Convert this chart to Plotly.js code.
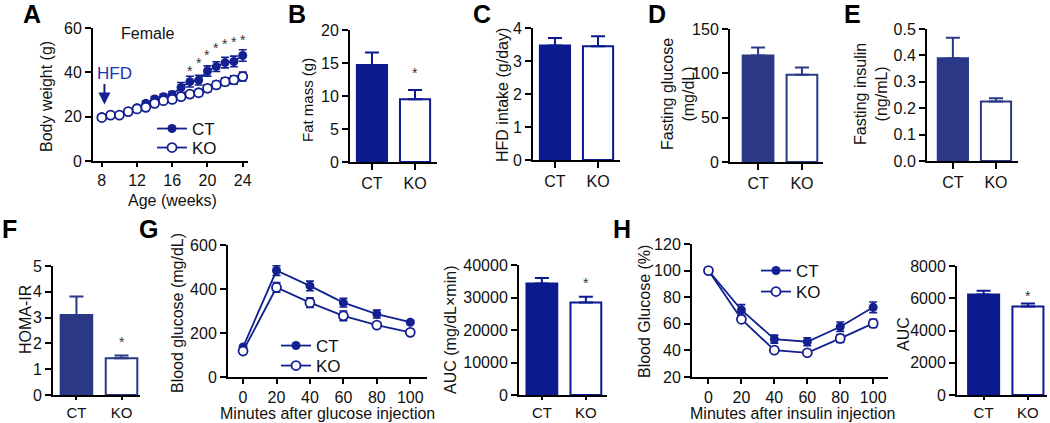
<!DOCTYPE html>
<html>
<head>
<meta charset="utf-8">
<script src="https://cdn.plot.ly/plotly-3.0.1.min.js"></script>
<style>html,body{margin:0;padding:0;background:#fff;} #chart{width:1050px;height:423px;}</style>
</head>
<body>
<div id="chart"></div>
<script>
// ---------------- DATA ----------------
const groups = ['CT', 'KO'];

const weeks = [8,9,10,11,12,13,14,15,16,17,18,19,20,21,22,23,24];
const ctWeight    = [20.0,20.7,20.9,22.5,24.0,26.0,28.0,29.0,30.0,33.2,35.8,36.5,40.6,42.6,44.4,44.9,47.6];
const ctWeightErr = [0.6,0.6,0.7,0.8,0.9,1.0,1.1,1.2,1.3,2.2,2.4,2.2,2.3,2.2,2.4,2.4,2.6];
const koWeight    = [19.6,20.7,20.7,22.3,23.5,24.2,26.0,27.2,27.8,29.0,30.2,30.8,32.8,34.3,35.8,36.6,38.1];
const koWeightErr = [0.5,0.6,0.6,0.7,0.8,0.8,0.9,1.0,1.0,1.2,1.3,1.4,1.5,1.6,1.7,1.8,2.0];
const starWeeks   = [18,19,20,21,22,23,24];
const starWeightY = [42.6,45.9,49.4,52.7,54.4,55.4,56.5];

const fatMass = [14.7, 9.5],      fatMassErr = [1.9, 1.4];
const hfdIntake = [3.47, 3.45],   hfdIntakeErr = [0.23, 0.30];
const fastGlucose = [120, 98.5],  fastGlucoseErr = [9, 8];
const fastInsulin = [0.389, 0.225], fastInsulinErr = [0.078, 0.013];
const homaIR = [3.1, 1.42],       homaIRErr = [0.72, 0.11];

const injMinutes = [0,20,40,60,80,100];
const ctGTT = [136,484,414,338,286,249], ctGTTErr = [8,22,22,20,18,8];
const koGTT = [118,407,338,278,236,203], koGTTErr = [8,22,22,22,10,8];
const gttAUC = [34300, 28500], gttAUCErr = [1700, 1700];

const ctITT = [100,70.4,48.5,46.5,57.8,72.4], ctITTErr = [0,4,3,3,3.5,4];
const koITT = [100,63.4,40.2,38.2,49.0,60.3], koITTErr = [0,1.5,1.5,1.5,3,3];
const ittAUC = [6240, 5490], ittAUCErr = [220, 180];

// star heights (data units) for bar panels
const starFat = 14.1, starHoma = 2.2, starGttAUC = 35800, starIttAUC = 6360;

// ---------------- STYLE ----------------
const W = 1050, H = 423;
const FONT = 'Liberation Sans, Arial, sans-serif';
const NAVY = '#0b1a8f';
const NAVY2 = '#2a3886';
const LINEC = '#13208f';
const TICK = 16;
const px = v => v / W;
const py = v => 1 - v / H;
const dx = (a, b) => [px(a), px(b)];
const dy = (top, bottom) => [py(bottom), py(top)];

function axBase(extra) {
  return Object.assign({
    showline: true, linecolor: '#000', linewidth: 2,
    ticks: 'outside', ticklen: 6, tickwidth: 2, tickcolor: '#000',
    showgrid: false, zeroline: false, fixedrange: true,
    tickfont: {family: FONT, size: TICK, color: '#111'}
  }, extra);
}

const traces = [];
function barTrace(vals, errs, n, color) {
  traces.push({
    type: 'bar', x: groups, y: vals, width: 0.7,
    xaxis: 'x' + (n === 1 ? '' : n), yaxis: 'y' + (n === 1 ? '' : n),
    marker: {color: [color, '#ffffff'], line: {color: color, width: 2}},
    error_y: {type: 'data', symmetric: false, array: errs, arrayminus: [0, 0],
              color: color, thickness: 2, width: 7},
    showlegend: false, hoverinfo: 'skip'
  });
}
function lineTrace(xs, ys, errs, n, name, open, legend) {
  traces.push({
    type: 'scatter', mode: 'lines+markers', x: xs, y: ys, name: name,
    xaxis: 'x' + (n === 1 ? '' : n), yaxis: 'y' + (n === 1 ? '' : n),
    line: {color: LINEC, width: 1.8},
    marker: {size: 9, symbol: 'circle', color: open ? '#ffffff' : LINEC,
             line: {color: LINEC, width: open ? 1.8 : 0}},
    error_y: {type: 'data', array: errs, color: LINEC, thickness: 1.6, width: 4},
    legend: legend, showlegend: true, hoverinfo: 'skip'
  });
}

// A
lineTrace(weeks, ctWeight, ctWeightErr, 1, 'CT', false, 'legend');
lineTrace(weeks, koWeight, koWeightErr, 1, 'KO', true, 'legend4');
// B..F bars
barTrace(fatMass, fatMassErr, 2, NAVY);
barTrace(hfdIntake, hfdIntakeErr, 3, NAVY);
barTrace(fastGlucose, fastGlucoseErr, 4, NAVY2);
barTrace(fastInsulin, fastInsulinErr, 5, NAVY2);
barTrace(homaIR, homaIRErr, 6, NAVY2);
// G
lineTrace(injMinutes, ctGTT, ctGTTErr, 7, 'CT', false, 'legend2');
lineTrace(injMinutes, koGTT, koGTTErr, 7, 'KO', true, 'legend5');
barTrace(gttAUC, gttAUCErr, 8, NAVY);
// H
lineTrace(injMinutes, ctITT, ctITTErr, 9, 'CT', false, 'legend3');
lineTrace(injMinutes, koITT, koITTErr, 9, 'KO', true, 'legend6');
barTrace(ittAUC, ittAUCErr, 10, NAVY);

// ---------------- LAYOUT ----------------
function leg(x, top) {
  return {x: px(x), y: py(top), xanchor: 'left', yanchor: 'top', bgcolor: 'rgba(0,0,0,0)',
          font: {family: FONT, size: 17, color: '#111'}, itemwidth: 30, tracegroupgap: 0};
}
const row2bar = {ticklen: 3, tickfont: {family: FONT, size: 15, color: '#111'}};
const row2line = {ticklen: 5};
const layout = {
  width: W, height: H, margin: {l: 0, r: 0, t: 0, b: 0},
  paper_bgcolor: '#fff', plot_bgcolor: 'rgba(0,0,0,0)',
  font: {family: FONT, size: 15, color: '#111'},
  bargap: 0,
  // A
  xaxis:  axBase({domain: dx(93, 248), anchor: 'y', range: [7, 24.6], tickvals: [8,12,16,20,24], ticklen: 4}),
  yaxis:  axBase({domain: dy(28, 161), anchor: 'x', range: [0, 60], tickvals: [0,20,40,60]}),
  // B
  xaxis2: axBase({domain: dx(350, 437), anchor: 'y2', type: 'category', range: [-0.51, 1.51]}),
  yaxis2: axBase({domain: dy(30, 162), anchor: 'x2', range: [0, 20], tickvals: [0,5,10,15,20]}),
  // C
  xaxis3: axBase({domain: dx(533, 620), anchor: 'y3', type: 'category', range: [-0.51, 1.51]}),
  yaxis3: axBase({domain: dy(28, 160), anchor: 'x3', range: [0, 4], tickvals: [0,1,2,3,4]}),
  // D
  xaxis4: axBase({domain: dx(730, 823), anchor: 'y4', type: 'category', range: [-0.64, 1.48]}),
  yaxis4: axBase({domain: dy(29, 162), anchor: 'x4', range: [0, 150], tickvals: [0,50,100,150]}),
  // E
  xaxis5: axBase({domain: dx(927, 1018), anchor: 'y5', type: 'category', range: [-0.6, 1.51]}),
  yaxis5: axBase({domain: dy(29, 161), anchor: 'x5', range: [0, 0.5], tickvals: [0,0.1,0.2,0.3,0.4,0.5], tickformat: '.1f'}),
  // F
  xaxis6: axBase(Object.assign({domain: dx(53, 140), anchor: 'y6', type: 'category', range: [-0.52, 1.41]}, row2bar)),
  yaxis6: axBase({domain: dy(266, 395), anchor: 'x6', range: [0, 5], tickvals: [0,1,2,3,4,5]}),
  // G
  xaxis7: axBase(Object.assign({domain: dx(228, 427), anchor: 'y7', range: [-9, 110], tickvals: [0,20,40,60,80,100]}, row2line)),
  yaxis7: axBase({domain: dy(245, 377), anchor: 'x7', range: [0, 600], tickvals: [0,200,400,600]}),
  xaxis8: axBase(Object.assign({domain: dx(519, 607), anchor: 'y8', type: 'category', range: [-0.52, 1.48]}, row2bar)),
  yaxis8: axBase({domain: dy(265, 395), anchor: 'x8', range: [0, 40000], tickvals: [0,10000,20000,30000,40000], tickformat: 'd'}),
  // H
  xaxis9: axBase(Object.assign({domain: dx(692, 888), anchor: 'y9', range: [-10, 109], tickvals: [0,20,40,60,80,100]}, row2line)),
  yaxis9: axBase({domain: dy(244, 377), anchor: 'x9', range: [20, 120], tickvals: [20,40,60,80,100,120]}),
  xaxis10: axBase(Object.assign({domain: dx(957, 1047), anchor: 'y10', type: 'category', range: [-0.6, 1.43]}, row2bar)),
  yaxis10: axBase({domain: dy(266, 395), anchor: 'x10', range: [0, 8000], tickvals: [0,2000,4000,6000,8000], tickformat: 'd'}),
  legend:  leg(152, 111),
  legend4: leg(152, 130),
  legend2: leg(276, 328),
  legend5: leg(276, 348),
  legend3: leg(756, 253),
  legend6: leg(756, 274),
  annotations: []
};

const A = layout.annotations;
function paperText(text, x, y, opts) {
  A.push(Object.assign({xref: 'paper', yref: 'paper', x: px(x), y: py(y), text: text,
    showarrow: false, xanchor: 'center', yanchor: 'middle',
    font: {family: FONT, size: 16, color: '#111'}}, opts || {}));
}
function yTitle(text, x, y, size) {
  paperText(text, x, y, {textangle: -90, font: {family: FONT, size: size || 16, color: '#111'}});
}
function letter(t, x, y) {
  paperText('<b>' + t + '</b>', x, y, {font: {family: FONT, size: 25, color: '#000'}});
}
function star(xref, yref, x, y) {
  A.push({xref: xref, yref: yref, x: x, y: y, text: '*', showarrow: false, yshift: -4,
    font: {family: FONT, size: 14, color: '#333'}});
}

// panel letters
letter('A', 32, 14); letter('B', 297, 14); letter('C', 482, 14); letter('D', 657, 14); letter('E', 852, 14);
letter('F', 9, 229); letter('G', 148, 229); letter('H', 622, 229);

// axis titles
yTitle('Body weight (g)', 46, 97);
paperText('Age (weeks)', 172, 200, {font: {family: FONT, size: 16, color: '#111'}});
yTitle('Fat mass (g)', 307, 100, 15);
yTitle('HFD intake (g/day)', 502, 95);
yTitle('Fasting glucose<br>(mg/dL)', 678, 94);
yTitle('Fasting insulin<br>(ng/mL)', 871, 94);
yTitle('HOMA-IR', 25, 320);
yTitle('Blood glucose (mg/dL)', 177, 313);
paperText('Minutes after glucose injection', 327, 413, {font: {family: FONT, size: 16, color: '#111'}});
yTitle('AUC (mg/dL\u00d7min)', 450, 330);
yTitle('Blood Glucose (%)', 644, 312);
paperText('Minutes after insulin injection', 792, 413, {font: {family: FONT, size: 16, color: '#111'}});
yTitle('AUC', 903, 334);

// extra texts in A
paperText('Female', 147, 33, {font: {family: FONT, size: 16, color: '#111'}});
paperText('HFD', 114, 73, {font: {family: FONT, size: 17, color: '#2233a8'}});
A.push({xref: 'x', yref: 'y', x: weeks[0] + 0.3, y: 25.5, ax: 0, ay: -22, text: '',
  showarrow: true, arrowhead: 2, arrowsize: 1.2, arrowwidth: 2, arrowcolor: '#13208f'});

// stars
starWeeks.forEach((w, i) => star('x', 'y', w, starWeightY[i]));
star('x2', 'y2', groups[1], starFat);
star('x6', 'y6', groups[1], starHoma);
star('x8', 'y8', groups[1], starGttAUC);
star('x10', 'y10', groups[1], starIttAUC);

Plotly.newPlot('chart', traces, layout, {staticPlot: true, displayModeBar: false});
</script>
</body>
</html>
